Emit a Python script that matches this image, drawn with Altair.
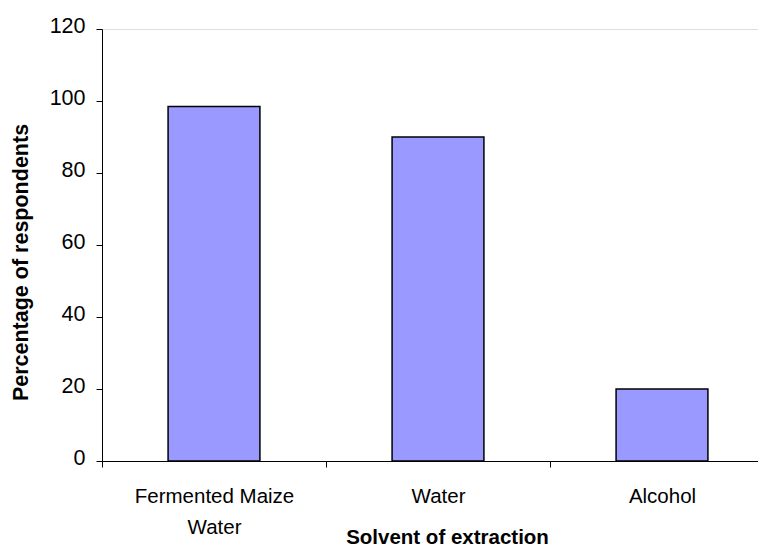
import altair as alt
import pandas as pd

solvents = ["Fermented Maize Water", "Water", "Alcohol"]
percentages = [98.5, 90, 20]
y_ticks = [0, 20, 40, 60, 80, 100, 120]

df = pd.DataFrame({"solvent": solvents, "pct": percentages})

FONT = "Liberation Sans"

chart = alt.Chart(df).mark_bar(
    color="#9999FF", stroke="black", strokeWidth=1.5,
    width=alt.RelativeBandSize(0.41),
).encode(
    x=alt.X(
        "solvent:N",
        sort=solvents,
        scale=alt.Scale(range=[0, 672], paddingInner=0, paddingOuter=0),
        axis=alt.Axis(
            title="Solvent of extraction",
            titleFont=FONT, titleFontSize=20.5, titleFontWeight="bold", titleColor="black",
            titleX=345, titleY=82, titleBaseline="alphabetic", titleAlign="center",
            labelFont=FONT, labelFontSize=20.5, labelColor="black", labelAngle=0,
            labelBaseline="top", labelPadding=19, labelLineHeight=31,
            labelExpr="datum.label == 'Fermented Maize Water' ? ['Fermented Maize', 'Water'] : datum.label",
            tickBand="extent", tickSize=6, tickColor="black",
            domainColor="black", domainWidth=1, tickWidth=1,
        ),
    ),
    y=alt.Y(
        "pct:Q",
        scale=alt.Scale(domain=[0, 120], nice=False),
        axis=alt.Axis(
            title="Percentage of respondents",
            titleFont=FONT, titleFontSize=21.5, titleFontWeight="bold", titleColor="black",
            titleAngle=270, titleBaseline="middle", titleAlign="center",
            titleX=-81, titleY=233,
            values=y_ticks, grid=False,
            labelFont=FONT, labelFontSize=21.5, labelColor="black",
            labelPadding=11, labelOffset=-3,
            tickSize=6, tickColor="black", tickWidth=1,
            domainColor="black", domainWidth=1,
        ),
    ),
).properties(
    width=656,
    height=432,
    autosize=alt.AutoSizeParams(type="none"),
    padding={"left": 94, "top": 21, "right": 0, "bottom": 87},
).configure_view(strokeWidth=0, stroke="transparent").configure(background="white")

chart.save("out.html", embed_options={"renderer": "svg", "actions": False})
